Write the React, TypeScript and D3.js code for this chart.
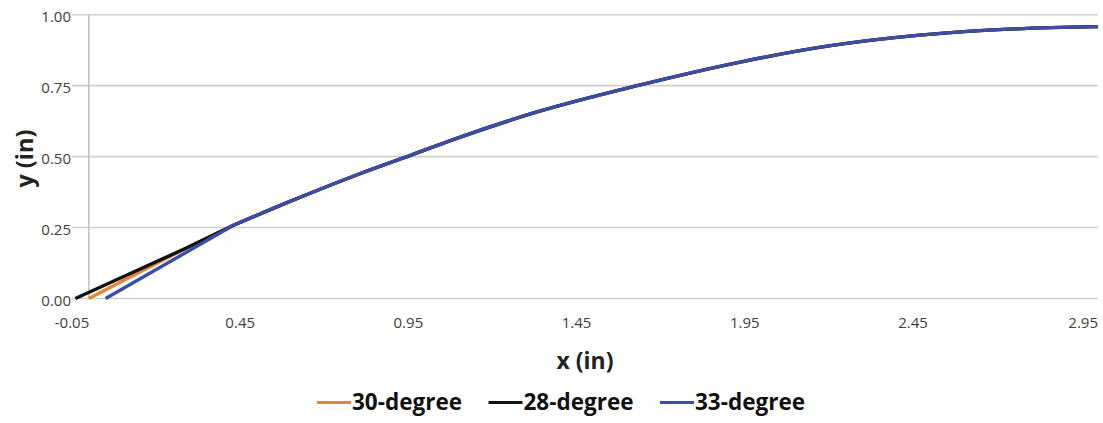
import { useRef, useEffect } from 'react';
import * as d3 from 'd3';

// shared profile after the tangent lines meet it
const curveX = [0.43, 0.6, 0.8, 0.96, 1.1, 1.34, 1.63, 1.94, 2.2, 2.47, 2.75, 3.0];
const curveY = [0.258, 0.343, 0.437, 0.506, 0.567, 0.66, 0.75, 0.834, 0.89, 0.928, 0.95, 0.958];

// lead-in points of each series
const orangeX = [0.0, 0.29];
const orangeY = [0.0, 0.178];
const blackX = [-0.04, 0.29];
const blackY = [0.0, 0.178];
const blueX = [0.05];
const blueY = [0.0];

const seriesNames = ['30-degree', '28-degree', '33-degree'];
const seriesColors = ['#e2873a', '#111111', '#3b4ea6'];

const xTicks = [-0.05, 0.45, 0.95, 1.45, 1.95, 2.45, 2.95];
const yTicks = [0, 0.25, 0.5, 0.75, 1.0];

const FONT = '"Open Sans", sans-serif';

type Pt = { x: number; y: number };

const fmt = (v: number) => d3.format('.2f')(v).replace('\u2212', '-');

export default function App() {
  const svgRef = useRef<SVGSVGElement>(null);

  useEffect(() => {
    const width = 1103;
    const height = 423;
    const svg = d3.select(svgRef.current);
    svg.selectAll('*').remove();
    svg.attr('width', width).attr('height', height);

    const x = d3.scaleLinear().domain([-0.05, 3.0]).range([72, 1098]);
    const y = d3.scaleLinear().domain([0, 1]).range([298.5, 14.7]);

    // horizontal gridlines
    svg.append('g')
      .selectAll('line')
      .data(yTicks)
      .enter()
      .append('line')
      .attr('x1', x(-0.05))
      .attr('x2', x(3.0))
      .attr('y1', d => y(d))
      .attr('y2', d => y(d))
      .attr('stroke', '#cfcfcf')
      .attr('stroke-width', 1.6);

    // vertical axis crosses at x = 0
    svg.append('line')
      .attr('x1', x(0)).attr('x2', x(0))
      .attr('y1', y(1)).attr('y2', y(0))
      .attr('stroke', '#c4c4c4')
      .attr('stroke-width', 1.6);

    svg.append('g')
      .selectAll('text')
      .data(yTicks)
      .enter()
      .append('text')
      .attr('x', 71)
      .attr('y', d => y(d) + 7.5)
      .attr('text-anchor', 'end')
      .attr('font-family', FONT)
      .attr('font-size', 15)
      .attr('fill', '#404040')
      .text(d => fmt(d));

    svg.append('g')
      .selectAll('text')
      .data(xTicks)
      .enter()
      .append('text')
      .attr('x', d => x(d) + (d === 2.95 ? 2 : 0))
      .attr('y', 328)
      .attr('text-anchor', 'middle')
      .attr('font-family', FONT)
      .attr('font-size', 15)
      .attr('fill', '#404040')
      .text(d => fmt(d));

    svg.append('text')
      .attr('x', (x(-0.05) + x(3.0)) / 2)
      .attr('y', 369)
      .attr('text-anchor', 'middle')
      .attr('font-family', FONT)
      .attr('font-weight', 'bold')
      .attr('font-size', 23)
      .attr('fill', '#222')
      .text('x (in)');

    svg.append('text')
      .attr('transform', `translate(33,${(y(0) + y(1)) / 2 + 2}) rotate(-90)`)
      .attr('text-anchor', 'middle')
      .attr('font-family', FONT)
      .attr('font-weight', 'bold')
      .attr('font-size', 23.5)
      .attr('fill', '#222')
      .text('y (in)');

    const straight = d3.line<Pt>().x(d => x(d.x)).y(d => y(d.y));
    const smooth = d3.line<Pt>().x(d => x(d.x)).y(d => y(d.y)).curve(d3.curveMonotoneX);

    const curvePts: Pt[] = curveX.map((v, i) => ({ x: v, y: curveY[i] }));
    const leadIns: Pt[][] = [
      orangeX.map((v, i) => ({ x: v, y: orangeY[i] })),
      blackX.map((v, i) => ({ x: v, y: blackY[i] })),
      blueX.map((v, i) => ({ x: v, y: blueY[i] })),
    ];

    const g = svg.append('g')
      .attr('fill', 'none')
      .attr('stroke-width', 3.4)
      .attr('stroke-linejoin', 'round');
    leadIns.forEach((lead, i) => {
      g.append('path')
        .attr('d', straight(lead.concat([curvePts[0]])))
        .attr('stroke', seriesColors[i]);
      g.append('path')
        .attr('d', smooth(curvePts))
        .attr('stroke', seriesColors[i]);
    });

    // legend
    const legend = svg.append('g');
    seriesNames.forEach((name, i) => {
      const lx = 317 + i * 171.5;
      legend.append('line')
        .attr('x1', lx).attr('x2', lx + 34)
        .attr('y1', 402.5).attr('y2', 402.5)
        .attr('stroke', seriesColors[i])
        .attr('stroke-width', 3.2);
      legend.append('text')
        .attr('x', lx + 35)
        .attr('y', 409.5)
        .attr('font-family', FONT)
        .attr('font-weight', 'bold')
        .attr('font-size', 22.5)
        .attr('fill', '#111')
        .text(name);
    });
  }, []);

  return (
    <div style={{ position: 'absolute', left: 0, top: 0 }}>
      <svg ref={svgRef}></svg>
    </div>
  );
}
